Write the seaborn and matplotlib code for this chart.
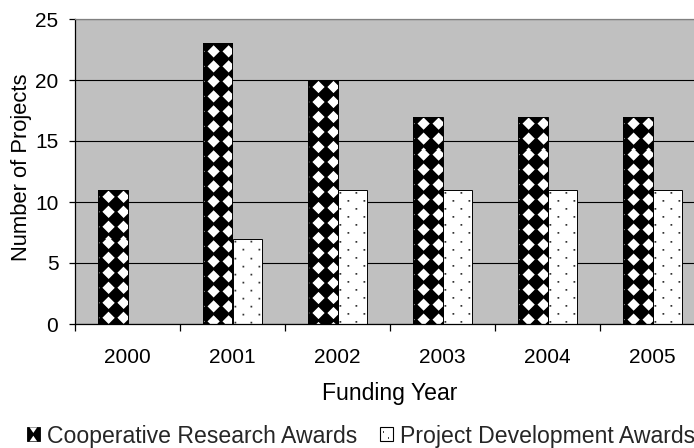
import numpy as np
import pandas as pd
import matplotlib
matplotlib.use("Agg")
import matplotlib.pyplot as plt
import seaborn as sns
from matplotlib.patches import Rectangle, Polygon
from matplotlib.legend_handler import HandlerBase

# ---- data ----
years = ["2000", "2001", "2002", "2003", "2004", "2005"]
cooperative = [11, 23, 20, 17, 17, 17]
development = [0, 7, 11, 11, 11, 11]
series_names = ["Cooperative Research Awards", "Project Development Awards"]
y_ticks = [0, 5, 10, 15, 20, 25]

df = pd.DataFrame({
    "year": years * 2,
    "value": cooperative + development,
    "series": [series_names[0]] * len(years) + [series_names[1]] * len(years),
})

sns.set_theme(style="white")
plt.rcParams["font.family"] = ["Liberation Sans", "DejaVu Sans"]

W, H, DPI = 694, 448, 100
fig = plt.figure(figsize=(W / DPI, H / DPI), dpi=DPI)
fig.patch.set_facecolor("white")
ax_left, ax_right, ax_top, ax_bottom = 75, 705, 19, 324
ax = fig.add_axes([ax_left / W, (H - ax_bottom) / H,
                   (ax_right - ax_left) / W, (ax_bottom - ax_top) / H])
ax.set_facecolor("#C0C0C0")

sns.barplot(data=df, x="year", y="value", hue="series", order=years,
            hue_order=series_names,
            palette={series_names[0]: "black", series_names[1]: "white"},
            width=0.57, edgecolor="black", linewidth=0.7, saturation=1,
            legend=False, ax=ax)

ax.set_xlim(-0.5, 5.5)
ax.set_ylim(0, 25)
ax.set_yticks(y_ticks)
ax.set_yticklabels([str(t) for t in y_ticks])
ax.yaxis.grid(True, color="black", linewidth=0.8)
ax.xaxis.grid(False)
ax.set_axisbelow(True)

for s in ["left", "bottom"]:
    ax.spines[s].set_color("black")
    ax.spines[s].set_linewidth(0.9)
for s in ["top", "right"]:
    ax.spines[s].set_color("#808080")
    ax.spines[s].set_linewidth(0.9)

fs = 15
ax.tick_params(axis="y", which="major", direction="out", length=4.5, width=0.9,
               color="black", pad=7.5, labelsize=fs, labelcolor="black", left=True)
ax.tick_params(axis="x", which="major", length=0, pad=17, labelsize=fs,
               labelcolor="black", bottom=True)
ax.set_xticks(np.arange(-0.5, 6.0, 1.0), minor=True)
ax.tick_params(axis="x", which="minor", direction="out", length=5, width=0.9,
               color="black", bottom=True)

ax.set_xlabel("Funding Year", fontsize=16.6, color="black")
ax.set_ylabel("Number of Projects", fontsize=15.8, color="black")
ax.xaxis.set_label_coords(0.5, -0.19)
ax.yaxis.set_label_coords(-0.069, 0.515)

# ---- textures for the bars ----
def diamond_tex(xs, ys, ox, oy, s=15.0, m=0.09):
    X, Y = np.meshgrid(xs - ox, ys - oy)
    a = (X + Y) / s
    b = (X - Y) / s
    fa = a - np.floor(a)
    fb = b - np.floor(b)
    par = (np.floor(a) + np.floor(b)) % 2
    white = (par == 0) & (fa > m) & (fa < 1 - m) & (fb > m) & (fb < 1 - m)
    return white.astype(float)

def dots_tex(xs, ys, ox, oy):
    X, Y = np.meshgrid(xs - ox, ys - oy)
    row = np.floor(Y / 8.0)
    yr = Y - row * 8.0
    xshift = np.where(row % 2 == 0, 0.0, 8.0)
    xr = (X - xshift) % 16.0
    dot = (xr < 1.8) & (yr < 1.8)
    return np.where(dot, 0.2, 1.0)

fig.canvas.draw()
inv = ax.transData.inverted()
ss = 4
for p in list(ax.patches):
    fc = p.get_facecolor()
    bb = p.get_window_extent()
    if bb.height < 1:
        continue
    x0, x1 = np.floor(bb.x0), np.ceil(bb.x1)
    y0, y1 = np.floor(bb.y0), np.ceil(bb.y1)
    nx, ny = int(x1 - x0), int(y1 - y0)
    xs = x0 + (np.arange(nx * ss) + 0.5) / ss
    ys = y0 + (np.arange(ny * ss) + 0.5) / ss
    if fc[0] < 0.5:
        tex = diamond_tex(xs, ys, bb.x0 + 3.5, bb.y1 - 8)
    else:
        tex = dots_tex(xs, ys, bb.x0 + 1, bb.y1 - 5)
    tex = tex.reshape(ny, ss, nx, ss).mean(axis=(1, 3))
    img = np.dstack([tex, tex, tex])
    (dx0, dy0) = inv.transform((x0, y0))
    (dx1, dy1) = inv.transform((x1, y1))
    im = ax.imshow(img, extent=(dx0, dx1, dy0, dy1), origin="lower",
                   interpolation="nearest", aspect="auto", zorder=2.5)
    im.set_clip_path(p)
    p.set_facecolor("none")
    p.set_zorder(3)

ax.set_xlim(-0.5, 5.5)
ax.set_ylim(0, 25)

# ---- legend ----
class CoopHandler(HandlerBase):
    def create_artists(self, legend, orig_handle, xdescent, ydescent,
                       width, height, fontsize, trans):
        x0, y0 = -xdescent, -ydescent
        r = Rectangle((x0, y0), width, height, facecolor="black",
                      edgecolor="black", lw=0.6, transform=trans)
        t1 = Polygon([(x0 + 0.2 * width, y0 + height), (x0 + 0.8 * width, y0 + height),
                      (x0 + 0.5 * width, y0 + 0.6 * height)],
                     facecolor="white", edgecolor="none", transform=trans)
        t2 = Polygon([(x0 + 0.2 * width, y0), (x0 + 0.8 * width, y0),
                      (x0 + 0.5 * width, y0 + 0.4 * height)],
                     facecolor="white", edgecolor="none", transform=trans)
        return [r, t1, t2]

class DevHandler(HandlerBase):
    def create_artists(self, legend, orig_handle, xdescent, ydescent,
                       width, height, fontsize, trans):
        x0, y0 = -xdescent, -ydescent
        r = Rectangle((x0, y0), width, height, facecolor="white",
                      edgecolor="black", lw=0.8, transform=trans)
        d1 = Rectangle((x0 + 0.22 * width, y0 + 0.62 * height), 0.13 * width,
                       0.13 * height, facecolor="#444444", edgecolor="none",
                       transform=trans)
        d2 = Rectangle((x0 + 0.62 * width, y0 + 0.15 * height), 0.13 * width,
                       0.13 * height, facecolor="#444444", edgecolor="none",
                       transform=trans)
        return [r, d1, d2]

h1 = Rectangle((0, 0), 1, 1)
h2 = Rectangle((0, 0), 1, 1)
fig.legend([h1, h2], series_names, handler_map={h1: CoopHandler(), h2: DevHandler()},
           loc="center left", bbox_to_anchor=(27 / W, 12 / H), ncol=2,
           frameon=False, fontsize=16.6, borderpad=0, borderaxespad=0,
           handlelength=0.55, handleheight=0.55, handletextpad=0.3,
           columnspacing=1.0)

fig.savefig("out.png", dpi=DPI, facecolor="white")
